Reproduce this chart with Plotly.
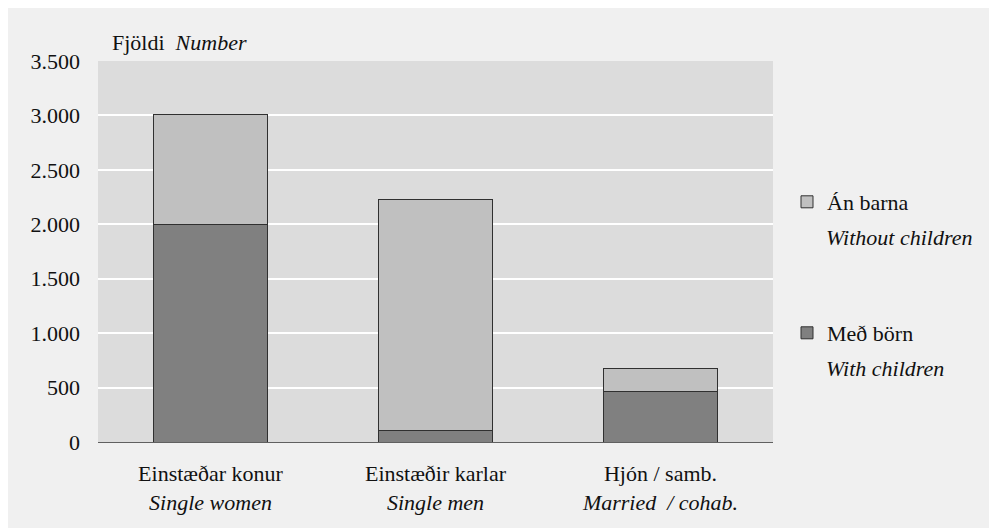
import plotly.graph_objects as go

categories_is = ["Einstæðar konur", "Einstæðir karlar", "Hjón / samb."]
categories_en = ["Single women", "Single men", "Married  / cohab."]
with_children = [1995, 110, 465]
without_children = [1015, 2115, 210]
y_ticks = [0, 500, 1000, 1500, 2000, 2500, 3000, 3500]

series_is = ["Með börn", "Án barna"]
series_en = ["With children", "Without children"]

FONT = "Liberation Serif"
FS = 22
x_keys = list(range(len(categories_is)))
tick_text = [f"{a}<br><i>{b}</i>" for a, b in zip(categories_is, categories_en)]

fig = go.Figure()
fig.add_trace(go.Bar(
    x=x_keys, y=with_children, name=series_is[0],
    marker=dict(color="#808080", line=dict(color="#303030", width=1)),
    legend="legend2",
))
fig.add_trace(go.Bar(
    x=x_keys, y=without_children, name=series_is[1],
    marker=dict(color="#c0c0c0", line=dict(color="#303030", width=1)),
    legend="legend",
))

OFF = 8  # page body margin
W, H = 985, 520
L, R, T, B = 90, 220, 53, 86
pw, ph = W - L - R, H - T - B

def px(xp):
    return (xp - OFF - L) / pw

def py(yp):
    return (H - B - (yp - OFF)) / ph

fig.update_layout(
    width=W, height=H,
    margin=dict(l=L, r=R, t=T, b=B, pad=0),
    barmode="stack", bargap=0.493,
    paper_bgcolor="#f0f0f0", plot_bgcolor="#dcdcdc",
    separators=",.",
    font=dict(family=FONT, size=FS, color="#111111"),
    showlegend=True,
    legend=dict(x=px(787), y=py(202), xanchor="left", yanchor="middle",
                bgcolor="rgba(0,0,0,0)", font=dict(size=FS), itemwidth=30),
    legend2=dict(x=px(787), y=py(333), xanchor="left", yanchor="middle",
                 bgcolor="rgba(0,0,0,0)", font=dict(size=FS), itemwidth=30),
    xaxis=dict(
        tickmode="array", tickvals=x_keys, ticktext=tick_text,
        range=[-0.5, len(categories_is) - 0.5],
        showgrid=False, ticks="", showline=True, linecolor="#606060", linewidth=1,
        tickfont=dict(size=FS), ticklabelstandoff=12,
    ),
    yaxis=dict(
        range=[0, 3500], tickmode="array", tickvals=y_ticks,
        tickformat=",d", showgrid=True, gridcolor="#ffffff", gridwidth=2,
        zeroline=False, ticks="", tickfont=dict(size=FS), ticklabelstandoff=17,
    ),
    annotations=[
        dict(text="Fjöldi  <i>Number</i>", xref="paper", yref="paper",
             x=px(110), y=py(42), xanchor="left", yanchor="middle",
             showarrow=False, font=dict(size=FS)),
        dict(text=f"<i>{series_en[1]}</i>", xref="paper", yref="paper",
             x=px(824), y=py(238), xanchor="left", yanchor="middle",
             showarrow=False, font=dict(size=FS)),
        dict(text=f"<i>{series_en[0]}</i>", xref="paper", yref="paper",
             x=px(824), y=py(368), xanchor="left", yanchor="middle",
             showarrow=False, font=dict(size=FS)),
    ],
)

fig.write_html("out.html")
